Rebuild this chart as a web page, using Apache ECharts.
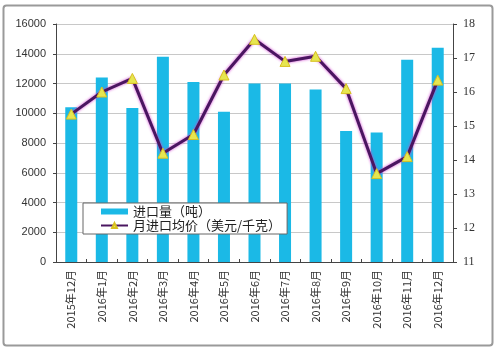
<!DOCTYPE html>
<html>
<head>
<meta charset="utf-8">
<script src="https://cdn.jsdelivr.net/npm/echarts@6/dist/echarts.min.js"></script>
<style>
  body { margin: 0; background: #fff; }
  #main { width: 498px; height: 353px; }
</style>
</head>
<body>
<div id="main"></div>
<script>
// 月份
var months = ['2015年12月', '2016年1月', '2016年2月', '2016年3月', '2016年4月', '2016年5月', '2016年6月',
              '2016年7月', '2016年8月', '2016年9月', '2016年10月', '2016年11月', '2016年12月'];
// 进口量（吨）
var importVolume = [10400, 12400, 10350, 13800, 12100, 10100, 12000, 12000, 11600, 8800, 8700, 13600, 14400];
// 月进口均价（美元/千克）
var avgPrice = [15.35, 16.0, 16.4, 14.2, 14.75, 16.5, 17.55, 16.9, 17.05, 16.1, 13.6, 14.1, 16.35];

var volName = '进口量（吨）';
var priceName = '月进口均价（美元/千克）';

var myChart = echarts.init(document.getElementById('main'));
var option = {
    backgroundColor: '#fff',
    animation: false,
    graphic: [{
        type: 'rect',
        shape: { x: 3.5, y: 5.5, width: 489, height: 340, r: 3 },
        style: { fill: 'none', stroke: '#9a9a9a', lineWidth: 2 }
    }],
    grid: { left: 56, top: 24, right: 45, bottom: 91 },
    legend: {
        orient: 'vertical',
        left: 83,
        top: 203,
        itemGap: 1,
        itemWidth: 27,
        itemHeight: 6,
        padding: [2, 6, 2, 17],
        backgroundColor: '#fff',
        borderColor: '#666',
        borderWidth: 1,
        textStyle: { fontSize: 13, color: '#222', fontFamily: 'Noto Sans CJK SC' },
        data: [
            { name: volName, icon: 'rect' },
            { name: priceName }
        ]
    },
    xAxis: {
        type: 'category',
        data: months,
        axisLine: { lineStyle: { color: '#444', width: 1 } },
        axisTick: { show: true, inside: true, length: 3, lineStyle: { color: '#444' } },
        axisLabel: { rotate: 90, interval: 0, fontSize: 11, color: '#333', fontFamily: 'Noto Sans CJK SC', margin: 8 }
    },
    yAxis: [
        {
            type: 'value',
            min: 0, max: 16000, interval: 2000,
            axisLine: { show: true, lineStyle: { color: '#444' } },
            axisTick: { show: true, length: 3, lineStyle: { color: '#444' } },
            axisLabel: { fontSize: 11, color: '#333', fontFamily: 'Liberation Sans', margin: 10,
                formatter: function (v) { return String(v); } },
            splitLine: { lineStyle: { color: '#c8c8c8' } }
        },
        {
            type: 'value',
            min: 11, max: 18, interval: 1,
            axisLine: { show: true, lineStyle: { color: '#444' } },
            axisTick: { show: true, length: 4, lineStyle: { color: '#444' } },
            axisLabel: { fontSize: 12, color: '#333', fontFamily: 'Liberation Serif', margin: 10 },
            splitLine: { show: false }
        }
    ],
    series: [
        {
            name: volName,
            type: 'bar',
            data: importVolume,
            barWidth: 12,
            itemStyle: { color: '#1bb9e6' }
        },
        {
            name: priceName,
            type: 'line',
            yAxisIndex: 1,
            data: avgPrice,
            symbol: 'triangle',
            symbolSize: 10,
            lineStyle: { color: '#4a1660', width: 3, shadowColor: '#d040d0', shadowBlur: 3 },
            itemStyle: { color: '#e6e650', borderColor: '#d8c020', borderWidth: 1 }
        }
    ]
};
myChart.setOption(option);
</script>
</body>
</html>
